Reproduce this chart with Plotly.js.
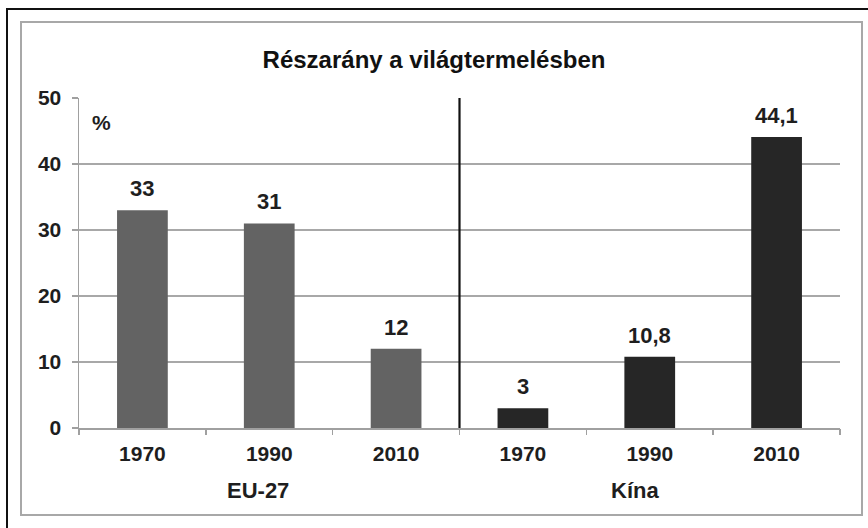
<!DOCTYPE html>
<html>
<head>
<meta charset="utf-8">
<script src="https://cdn.plot.ly/plotly-3.0.1.min.js"></script>
<style>
  html, body { margin: 0; padding: 0; background: #ffffff; }
  #wrap { position: relative; width: 868px; height: 528px; overflow: hidden; }
  #chart { position: absolute; left: 0; top: 0; width: 868px; height: 528px; }
  .frame-outer-top { position: absolute; left: 6px; top: 8px; width: 862px; height: 2px; background: #111; }
  .frame-outer-left { position: absolute; left: 6px; top: 8px; width: 2px; height: 520px; background: #111; }
  .frame-inner { position: absolute; left: 20px; top: 21px; width: 839px; height: 491px; border: 2px solid #a8a8a8; }
</style>
</head>
<body>
<div id="wrap">
  <div id="chart"></div>
  <div class="frame-outer-top"></div>
  <div class="frame-outer-left"></div>
  <div class="frame-inner"></div>
</div>
<script>
// ---- data ----
const chartTitle = "Részarány a világtermelésben";
const unitLabel = "%";
const groups = ["EU-27", "Kína"];
const years = ["1970", "1990", "2010"];
const euValues = [33, 31, 12];
const chinaValues = [3, 10.8, 44.1];
const yTicks = [0, 10, 20, 30, 40, 50];

// ---- build ----
const fmt = v => String(v).replace(".", ",");
const n = years.length;
const euX = years.map((_, i) => i);
const chX = years.map((_, i) => n + i);
const allYearLabels = years.concat(years);
const allX = euX.concat(chX);
const allValues = euValues.concat(chinaValues);
const boundaries = [];
for (let i = 0; i <= allX.length; i++) boundaries.push(i - 0.5);

const FS = 21;
const FONT = "Liberation Sans, Arial, sans-serif";
const TXT = "#1e1e1e";

const traces = [
  {
    type: "bar", x: euX, y: euValues, name: groups[0],
    marker: { color: "#636363" }, hoverinfo: "skip"
  },
  {
    type: "bar", x: chX, y: chinaValues, name: groups[1],
    marker: { color: "#262626" }, hoverinfo: "skip"
  },
  { type: "scatter", x: [allX[0]], y: [0], xaxis: "x2", mode: "markers",
    marker: { opacity: 0 }, hoverinfo: "skip", showlegend: false }
];

const valueAnnotations = allX.map((x, i) => ({
  text: "<b>" + fmt(allValues[i]) + "</b>",
  xref: "x", yref: "y", x: x, y: allValues[i],
  xanchor: "center", yanchor: "bottom", yshift: 7, showarrow: false,
  font: { size: 22, color: TXT }
}));

const layout = {
  width: 868, height: 528,
  margin: { l: 79, r: 28, t: 98, b: 100 },
  paper_bgcolor: "rgba(0,0,0,0)", plot_bgcolor: "rgba(0,0,0,0)",
  showlegend: false,
  barmode: "overlay",
  bargap: 0.6,
  font: { family: FONT, color: TXT },
  title: {
    text: "<b>" + chartTitle + "</b>",
    font: { size: 24, color: "#111" },
    x: 0.5, xanchor: "center", xref: "container",
    y: 1 - 60 / 528, yanchor: "middle", yref: "container"
  },
  xaxis: {
    range: [-0.5, allX.length - 0.5],
    tickmode: "array", tickvals: allX, ticktext: allYearLabels.map(t => "<b>" + t + "</b>"),
    ticks: "", tickfont: { size: FS, color: TXT },
    ticklabelstandoff: 6,
    showline: true, linecolor: "#a0a0a0", linewidth: 1.5,
    showgrid: false, zeroline: false, fixedrange: true
  },
  xaxis2: {
    overlaying: "x", anchor: "y",
    range: [-0.5, allX.length - 0.5],
    tickmode: "array", tickvals: boundaries, showticklabels: false,
    ticks: "outside", ticklen: 6, tickcolor: "#a0a0a0", tickwidth: 1.5,
    showline: false, showgrid: false, zeroline: false, fixedrange: true
  },
  yaxis: {
    range: [0, 50], tickmode: "array", tickvals: yTicks,
    ticktext: yTicks.map(t => "<b>" + t + "</b>"),
    tickfont: { size: FS, color: TXT },
    ticks: "outside", ticklen: 6, tickcolor: "#a0a0a0", tickwidth: 1.5,
    ticklabelstandoff: 6,
    showline: true, linecolor: "#a0a0a0", linewidth: 1.5,
    showgrid: true, gridcolor: "#a8a8a8", gridwidth: 1.3,
    zeroline: false, fixedrange: true
  },
  shapes: [
    { type: "line", xref: "x", yref: "paper", x0: n - 0.5, x1: n - 0.5, y0: 0, y1: 1,
      line: { color: "#111", width: 2.2 } }
  ],
  annotations: [
    { text: "<b>" + unitLabel + "</b>", xref: "paper", yref: "paper", x: 0, y: 1,
      xanchor: "left", yanchor: "top", xshift: 11, yshift: -11, showarrow: false,
      font: { size: FS, color: TXT } },
    { text: "<b>" + groups[0] + "</b>", xref: "x", yref: "paper", x: (n - 1) / 2, y: 0,
      xanchor: "center", yanchor: "middle", xshift: -11, yshift: -62, showarrow: false,
      font: { size: 22, color: TXT } },
    { text: "<b>" + groups[1] + "</b>", xref: "x", yref: "paper", x: n + (n - 1) / 2, y: 0,
      xanchor: "center", yanchor: "middle", xshift: -15, yshift: -62, showarrow: false,
      font: { size: 22, color: TXT } }
  ].concat(valueAnnotations)
};

Plotly.newPlot("chart", traces, layout, { displayModeBar: false, staticPlot: true });
</script>
</body>
</html>
